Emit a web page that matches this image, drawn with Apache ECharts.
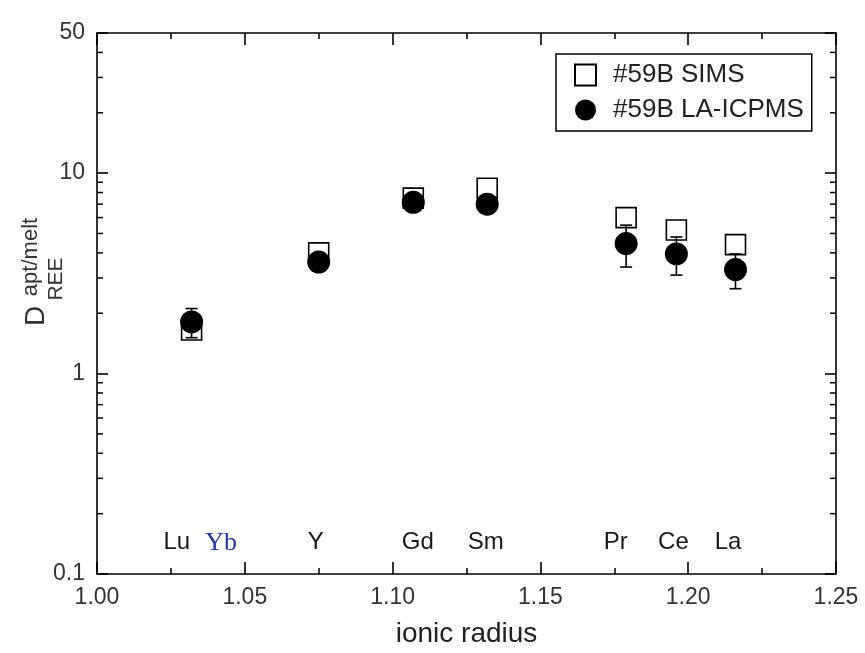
<!DOCTYPE html>
<html>
<head>
<meta charset="utf-8">
<script src="https://cdn.jsdelivr.net/npm/echarts@6/dist/echarts.min.js"></script>
<style>html,body{margin:0;padding:0;background:#fff;}#c{width:865px;height:653px;}</style>
</head>
<body>
<div id="c"></div>
<script>
// ---- data ----
const ionicRadius = [1.032, 1.075, 1.107, 1.132, 1.179, 1.196, 1.216];
const simsD = [1.65, 4.0, 7.5, 8.4, 6.0, 5.2, 4.4];
const lacpD = [1.81, 3.6, 7.15, 7.0, 4.45, 3.95, 3.3];
const lacpErr = [0.3, 0.35, 0.6, 0.5, 1.05, 0.85, 0.65];
const elementNames = ['Lu', 'Yb', 'Y', 'Gd', 'Sm', 'Pr', 'Ce', 'La'];
const elementRadius = [1.027, 1.042, 1.074, 1.1085, 1.1315, 1.1755, 1.195, 1.2135];
const elementLevel = 0.143;
const yMinorTicks = [0.2, 0.3, 0.4, 0.5, 0.6, 0.7, 0.8, 0.9, 2, 3, 4, 5, 6, 7, 8, 9, 20, 30, 40];
const seriesNames = ['#59B SIMS', '#59B LA-ICPMS'];

const FONT = 'Liberation Sans, Arial, Helvetica, sans-serif';
const chart = echarts.init(document.getElementById('c'), null, {renderer: 'canvas'});

const xCommon = {
  type: 'value', min: 1.0, max: 1.25, interval: 0.05,
  axisLine: {show: true, onZero: false, lineStyle: {color: '#000', width: 1.6}},
  axisTick: {show: true, inside: true, length: 12, lineStyle: {color: '#000', width: 1.6}},
  minorTick: {show: true, splitNumber: 2, length: 6, lineStyle: {color: '#000', width: 1.5}},
  splitLine: {show: false}, minorSplitLine: {show: false}
};
const yCommon = {
  type: 'log', logBase: 10, min: 0.1, max: 50,
  axisLine: {show: true, onZero: false, lineStyle: {color: '#000', width: 1.6}},
  axisTick: {show: true, inside: true, length: 11, lineStyle: {color: '#000', width: 1.6}},
  splitLine: {show: false}, minorSplitLine: {show: false}
};

const option = {
  backgroundColor: '#fff',
  animation: false,
  grid: {left: 97, top: 33, right: 29, bottom: 75},
  legend: {
    orient: 'vertical', left: 556, top: 54,
    padding: [8, 8, 8, 18], itemGap: 9, itemWidth: 21, itemHeight: 21,
    borderColor: '#000', borderWidth: 1.5, backgroundColor: '#fff',
    textStyle: {fontSize: 26, fontFamily: FONT, color: '#222', padding: [0, 0, 0, 12]},
    data: seriesNames
  },
  xAxis: [
    Object.assign({}, xCommon, {
      position: 'bottom',
      name: 'ionic radius', nameLocation: 'middle', nameGap: 46,
      nameTextStyle: {fontSize: 28, fontFamily: FONT, color: '#222'},
      axisLabel: {show: true, margin: 12, fontSize: 23, fontFamily: FONT, color: '#333',
        formatter: v => v.toFixed(2)}
    }),
    Object.assign({}, xCommon, {position: 'top', axisLabel: {show: false}})
  ],
  yAxis: [
    Object.assign({}, yCommon, {
      position: 'left',
      axisLabel: {show: true, margin: 12, fontSize: 23, fontFamily: FONT, color: '#333',
        formatter: v => String(+v.toPrecision(6))}
    }),
    Object.assign({}, yCommon, {position: 'right', axisLabel: {show: false}})
  ],
  graphic: [
    {type: 'text', x: 36, y: 316, rotation: Math.PI / 2,
      style: {text: 'D', font: '28px ' + FONT, fill: '#333', align: 'center', verticalAlign: 'middle', textAlign: 'center', textVerticalAlign: 'middle'}},
    {type: 'text', x: 31, y: 257, rotation: Math.PI / 2,
      style: {text: 'apt/melt', font: '22px ' + FONT, fill: '#333', align: 'center', verticalAlign: 'middle', textAlign: 'center', textVerticalAlign: 'middle'}},
    {type: 'text', x: 56, y: 279, rotation: Math.PI / 2,
      style: {text: 'REE', font: '21px ' + FONT, fill: '#333', align: 'center', verticalAlign: 'middle', textAlign: 'center', textVerticalAlign: 'middle'}}
  ],
  series: [
    {
      name: 'minorTicks', type: 'custom', xAxisIndex: 0, yAxisIndex: 0, silent: true, clip: false, z: 5,
      data: yMinorTicks.map(v => [1.0, v]),
      encode: {x: 0, y: 1},
      renderItem: function (params, api) {
        const cs = params.coordSys;
        const y = api.coord([1.0, api.value(1)])[1];
        const st = {stroke: '#000', lineWidth: 1.5};
        return {type: 'group', children: [
          {type: 'line', shape: {x1: cs.x, y1: y, x2: cs.x + 6, y2: y}, style: st},
          {type: 'line', shape: {x1: cs.x + cs.width - 6, y1: y, x2: cs.x + cs.width, y2: y}, style: st}
        ]};
      }
    },
    {
      name: 'labels', type: 'scatter', symbolSize: 0, silent: true, z: 4,
      itemStyle: {opacity: 1},
      data: elementNames.map((n, i) => {
        const d = {value: [elementRadius[i], elementLevel], name: n};
        if (n === 'Yb') d.label = {fontFamily: 'Liberation Serif, Times New Roman, serif', fontSize: 26, color: '#23389a'};
        return d;
      }),
      label: {show: true, position: 'inside', formatter: p => p.name, fontSize: 24, fontFamily: FONT, color: '#1a1a1a', opacity: 1}
    },
    {
      name: seriesNames[0], type: 'scatter', symbol: 'rect', symbolSize: 20, z: 6,
      data: ionicRadius.map((r, i) => [r, simsD[i]]),
      itemStyle: {color: 'rgba(0,0,0,0)', borderColor: '#000', borderWidth: 1.6, opacity: 1},
      emphasis: {disabled: true}
    },
    {
      name: seriesNames[1], type: 'scatter', symbol: 'circle', symbolSize: 23, z: 7,
      data: ionicRadius.map((r, i) => [r, lacpD[i]]),
      itemStyle: {color: '#000', opacity: 1},
      emphasis: {disabled: true}
    },
    {
      name: 'errorbars', type: 'custom', z: 8, silent: true,
      data: ionicRadius.map((r, i) => [r, lacpD[i] - lacpErr[i], lacpD[i] + lacpErr[i]]),
      encode: {x: 0, y: [1, 2]},
      renderItem: function (params, api) {
        const lo = api.coord([api.value(0), api.value(1)]);
        const hi = api.coord([api.value(0), api.value(2)]);
        const hw = 6;
        const st = {stroke: '#000', lineWidth: 1.6};
        return {type: 'group', children: [
          {type: 'line', shape: {x1: lo[0], y1: lo[1], x2: hi[0], y2: hi[1]}, style: st},
          {type: 'line', shape: {x1: lo[0] - hw, y1: lo[1], x2: lo[0] + hw, y2: lo[1]}, style: st},
          {type: 'line', shape: {x1: hi[0] - hw, y1: hi[1], x2: hi[0] + hw, y2: hi[1]}, style: st}
        ]};
      }
    }
  ]
};
chart.setOption(option);
</script>
</body>
</html>
